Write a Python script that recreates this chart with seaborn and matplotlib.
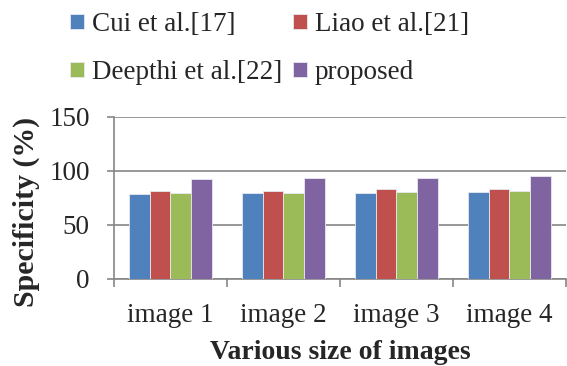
import matplotlib
matplotlib.use("Agg")
import matplotlib.pyplot as plt
import seaborn as sns
import pandas as pd
from matplotlib.ticker import FixedLocator

# Specificity (%) per test image for each method
images = ["image 1", "image 2", "image 3", "image 4"]
methods = ["Cui et al.[17]", "Liao et al.[21]", "Deepthi et al.[22]", "proposed"]
cui = [78.1, 79.0, 79.3, 80.2]
liao = [80.9, 81.2, 82.7, 83.0]
deepthi = [79.0, 79.3, 80.2, 81.2]
proposed = [92.5, 92.9, 93.5, 95.3]
colors = ["#4F81BD", "#C0504D", "#9BBB59", "#8064A2"]

rows = []
for name, vals in zip(methods, [cui, liao, deepthi, proposed]):
    for img, v in zip(images, vals):
        rows.append({"image": img, "method": name, "value": v})
df = pd.DataFrame(rows)

sns.set_style("white")
plt.rcParams["font.family"] = ["Liberation Serif", "DejaVu Serif"]

fig = plt.figure(figsize=(5.67, 3.66), dpi=100)
ax = fig.add_axes([0.201, 0.238, 0.797, 0.443])

grey = "#868686"
sns.barplot(data=df, x="image", y="value", hue="method", order=images,
            hue_order=methods, palette=colors, width=0.73, saturation=1,
            edgecolor="#e8e8f0", linewidth=0.6, errorbar=None, ax=ax,
            zorder=3)

ax.set_ylim(0, 150)
ax.set_xlim(-0.5, 3.5)
ax.set_yticks([0, 50, 100, 150])
ax.yaxis.grid(True, color=grey, linewidth=1.2, zorder=0)
ax.set_axisbelow(True)

for s in ["top", "right"]:
    ax.spines[s].set_visible(False)
for s in ["left", "bottom"]:
    ax.spines[s].set_color(grey)
    ax.spines[s].set_linewidth(1.2)

ax.xaxis.set_minor_locator(FixedLocator([-0.5, 0.5, 1.5, 2.5, 3.5]))
ax.tick_params(axis="x", which="major", length=0, pad=17, labelsize=19.5)
ax.tick_params(axis="x", which="minor", length=6, width=1.2, color=grey,
               direction="out", bottom=True)
ax.tick_params(axis="y", which="major", length=5, width=1.2, color=grey,
               direction="out", left=True, labelsize=19.5, pad=12.5)

ax.set_xlabel("Various size of images", fontsize=20, fontweight="bold",
              labelpad=9)
ax.set_ylabel("Specificity (%)", fontsize=21.5, fontweight="bold")
ax.yaxis.set_label_coords(-0.163, 0.416)

# legend laid out row by row: Cui, Liao / Deepthi, proposed
handles, labels = ax.get_legend_handles_labels()
ax.get_legend().remove()
order = [0, 2, 1, 3]
fig.legend([handles[i] for i in order], [labels[i] for i in order], ncol=2,
           loc="upper left", bbox_to_anchor=(0.105, 0.997), frameon=False,
           fontsize=19.5, handlelength=0.5, handleheight=0.5,
           handletextpad=0.3, columnspacing=0.4, labelspacing=0.85,
           borderaxespad=0)

fig.savefig("out.png", dpi=100)
